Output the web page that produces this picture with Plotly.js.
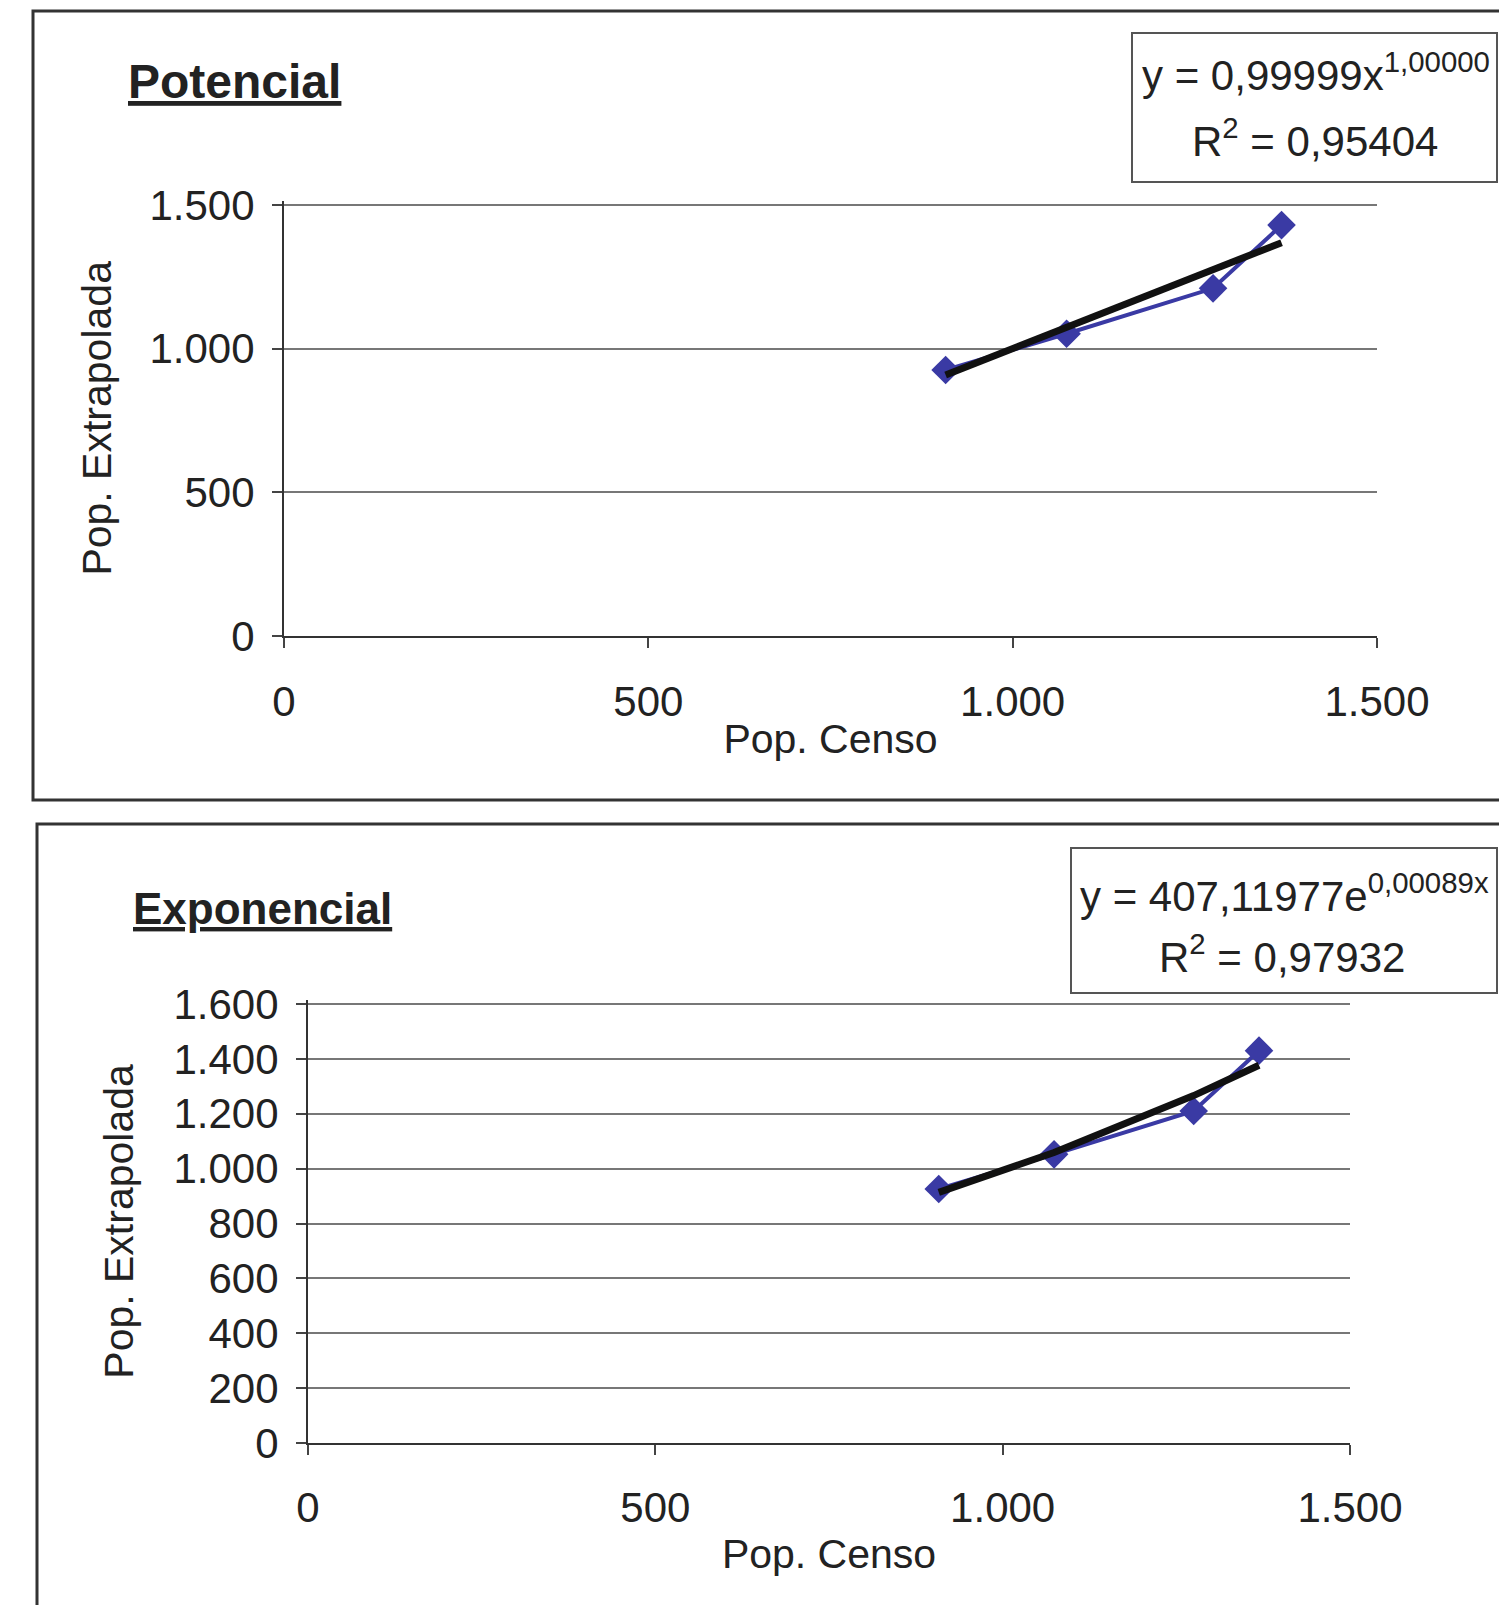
<!DOCTYPE html>
<html>
<head>
<meta charset="utf-8">
<script src="https://cdn.plot.ly/plotly-3.0.1.min.js"></script>
<style>html,body{margin:0;padding:0;background:#fff;}#chart{width:1499px;height:1605px;}</style>
</head>
<body>
<div id="chart"></div>
<script>
// ---- data ----
const popCenso = [908, 1074, 1275, 1369];
const popExtrapolada = [926, 1052, 1210, 1430];

// trendline coefficients shown in the chart labels
const potA = 0.99999, potB = 1.00000, potR2 = 0.95404;
const expA = 407.11977, expB = 0.00089, expR2 = 0.97932;

// tick labels
const xTickVals = [0, 500, 1000, 1500];
const xTickText = ['0', '500', '1.000', '1.500'];
const yTopTickVals = [0, 500, 1000, 1500];
const yTopTickText = ['0', '500', '1.000', '1.500'];
const yBotTickVals = [0, 200, 400, 600, 800, 1000, 1200, 1400, 1600];
const yBotTickText = ['0', '200', '400', '600', '800', '1.000', '1.200', '1.400', '1.600'];

const titles = ['Potencial', 'Exponencial'];
const xTitle = 'Pop. Censo';
const yTitle = 'Pop. Extrapolada';

// ---- helpers ----
const W = 1499, H = 1605;
const px = v => v / W;
const py = v => 1 - v / H;
const fmt = (v, d) => v.toFixed(d).replace('.', ',');
const FONT = 'Liberation Sans, Arial, sans-serif';
const BLUE = '#3a3aa4';
const TXT = '#222';

const potY = popCenso.map(x => potA * Math.pow(x, potB));
const expY = popCenso.map(x => expA * Math.exp(expB * x));

const traces = [
  {x: popCenso, y: popExtrapolada, xaxis: 'x', yaxis: 'y', mode: 'lines+markers',
   line: {color: BLUE, width: 4}, marker: {symbol: 'diamond', size: 22, color: BLUE}},
  {x: popCenso, y: potY, xaxis: 'x', yaxis: 'y', mode: 'lines',
   line: {color: '#111', width: 7}},
  {x: popCenso, y: popExtrapolada, xaxis: 'x2', yaxis: 'y2', mode: 'lines+markers',
   line: {color: BLUE, width: 4}, marker: {symbol: 'diamond', size: 22, color: BLUE}},
  {x: popCenso, y: expY, xaxis: 'x2', yaxis: 'y2', mode: 'lines',
   line: {color: '#111', width: 7}}
];

const tickFont = {family: FONT, size: 42, color: TXT};
const titleFont = {family: FONT, size: 41, color: TXT};

function xAx(domain, anchor, lblStandoff, titleStandoff) {
  return {domain, anchor, range: [0, 1500], tickvals: xTickVals, ticktext: xTickText,
    ticks: 'outside', ticklen: 10, tickwidth: 2, tickcolor: '#444',
    showline: true, linecolor: '#333', linewidth: 2, showgrid: false, zeroline: false,
    tickfont: tickFont, ticklabelstandoff: lblStandoff,
    title: {text: xTitle, font: titleFont, standoff: titleStandoff}};
}
function yAx(domain, anchor, range, vals, text, titleStandoff) {
  return {domain, anchor, range, tickvals: vals, ticktext: text,
    ticks: 'outside', ticklen: 10, tickwidth: 2, tickcolor: '#444',
    showline: true, linecolor: '#333', linewidth: 2,
    showgrid: true, gridcolor: '#777', gridwidth: 2, zeroline: false,
    tickfont: tickFont, ticklabelstandoff: 9,
    title: {text: yTitle, font: titleFont, standoff: titleStandoff}};
}

const layout = {
  width: W, height: H, margin: {l: 0, r: 0, t: 0, b: 0},
  paper_bgcolor: '#fff', plot_bgcolor: '#fff', showlegend: false,
  separators: ',.',
  xaxis: xAx([284 / W, 1377 / W], 'y', 18, 0),
  yaxis: yAx([py(636), py(200.7)], 'x', [0, 1515], yTopTickVals, yTopTickText, 25),
  xaxis2: xAx([308 / W, 1350 / W], 'y2', 17, 9),
  yaxis2: yAx([py(1443), py(999.9)], 'x2', [0, 1615], yBotTickVals, yBotTickText, 27),
  shapes: [
    {type: 'rect', xref: 'paper', yref: 'paper', x0: px(33), y0: py(11), x1: px(1530), y1: py(800),
     line: {color: '#333', width: 3}},
    {type: 'rect', xref: 'paper', yref: 'paper', x0: px(37), y0: py(824), x1: px(1530), y1: py(1640),
     line: {color: '#333', width: 3}},
    {type: 'rect', xref: 'paper', yref: 'paper', x0: px(1132), y0: py(33), x1: px(1497), y1: py(182),
     line: {color: '#555', width: 2}},
    {type: 'rect', xref: 'paper', yref: 'paper', x0: px(1071), y0: py(848), x1: px(1497), y1: py(993),
     line: {color: '#555', width: 2}}
  ],
  annotations: [
    {xref: 'paper', yref: 'paper', x: px(126), y: py(82), xanchor: 'left', yanchor: 'middle',
     text: '<b><u>' + titles[0] + '</u></b>', showarrow: false, font: {family: FONT, size: 48, color: TXT}},
    {xref: 'paper', yref: 'paper', x: px(131), y: py(908), xanchor: 'left', yanchor: 'middle',
     text: '<b><u>' + titles[1] + '</u></b>', showarrow: false, font: {family: FONT, size: 44, color: TXT}},
    {xref: 'paper', yref: 'paper', x: px(1140), y: py(72), xanchor: 'left', yanchor: 'middle',
     text: 'y = ' + fmt(potA, 5) + 'x<sup>' + fmt(potB, 5) + '</sup>', showarrow: false,
     font: {family: FONT, size: 42, color: TXT}},
    {xref: 'paper', yref: 'paper', x: px(1315), y: py(138), xanchor: 'center', yanchor: 'middle',
     text: 'R<sup>2</sup> = ' + fmt(potR2, 5), showarrow: false, font: {family: FONT, size: 42, color: TXT}},
    {xref: 'paper', yref: 'paper', x: px(1078), y: py(893), xanchor: 'left', yanchor: 'middle',
     text: 'y = ' + fmt(expA, 5) + 'e<sup>' + fmt(expB, 5) + 'x</sup>', showarrow: false,
     font: {family: FONT, size: 42, color: TXT}},
    {xref: 'paper', yref: 'paper', x: px(1282), y: py(954), xanchor: 'center', yanchor: 'middle',
     text: 'R<sup>2</sup> = ' + fmt(expR2, 5), showarrow: false, font: {family: FONT, size: 42, color: TXT}}
  ]
};

Plotly.newPlot('chart', traces, layout, {staticPlot: true, displayModeBar: false});
</script>
</body>
</html>
